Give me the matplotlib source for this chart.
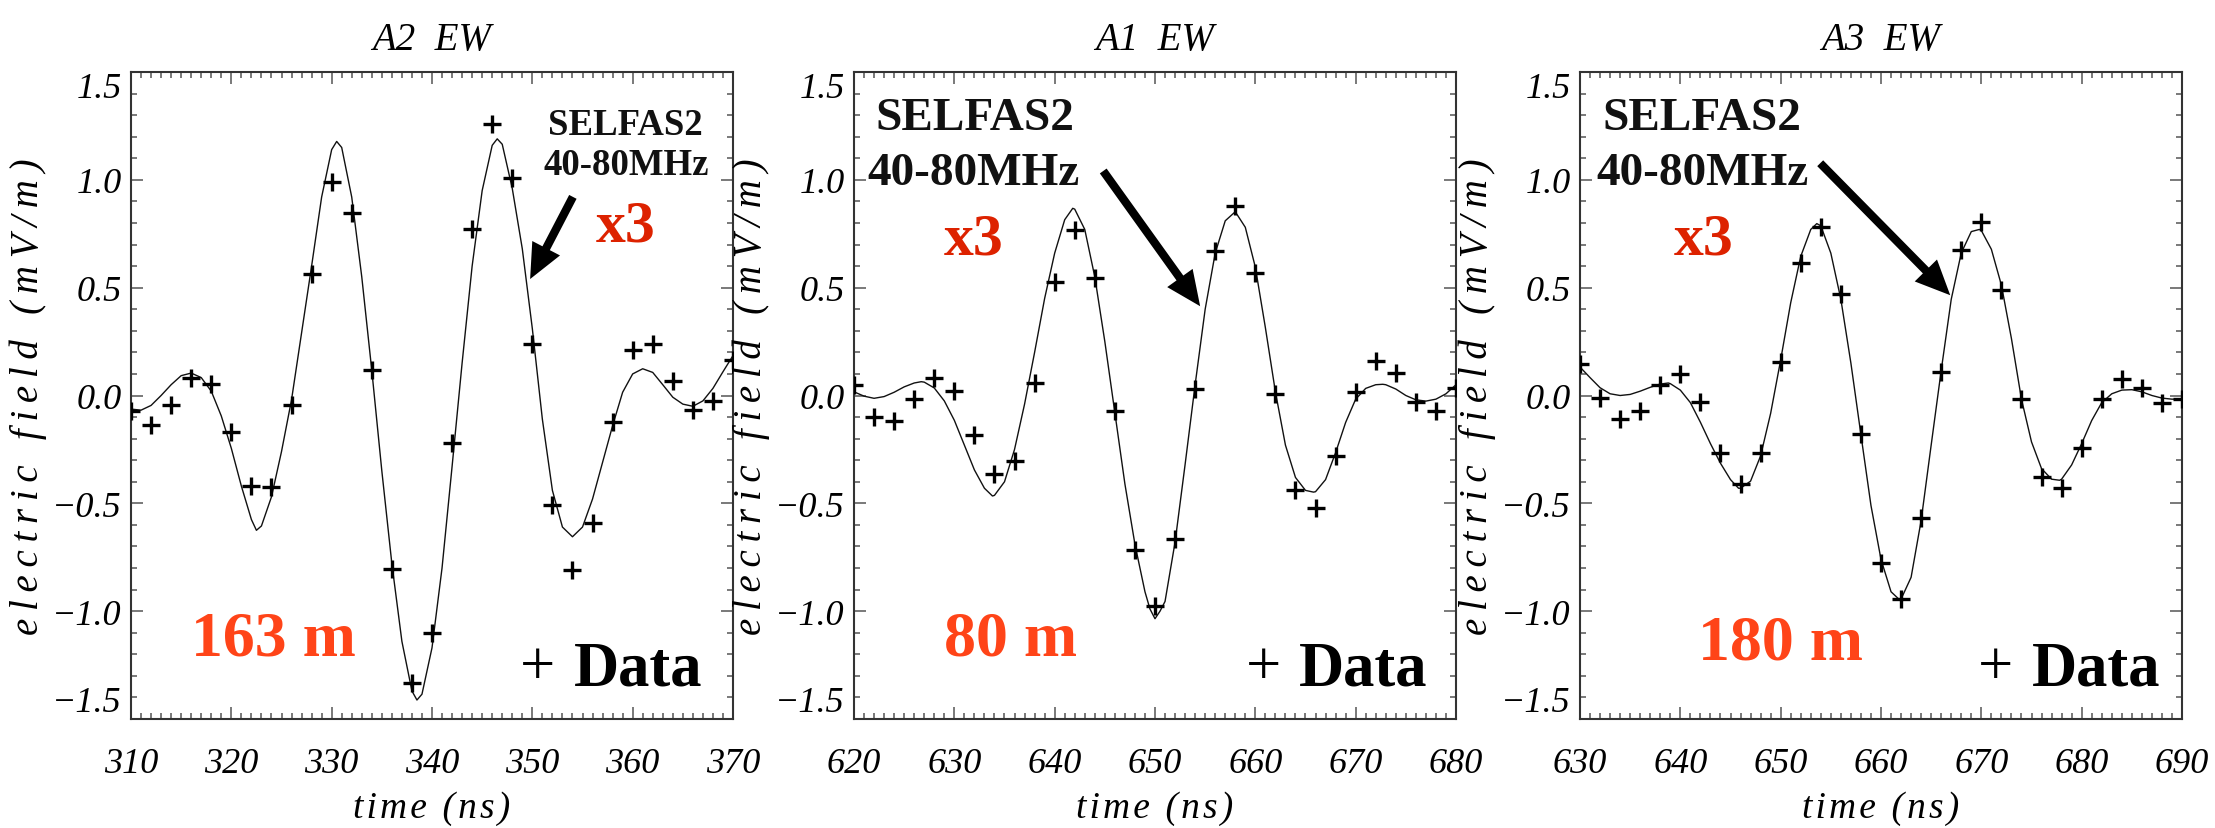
import matplotlib
matplotlib.use("Agg")
import matplotlib.pyplot as plt
from matplotlib.ticker import MultipleLocator

# ---------------- data ----------------
titles = ["A2 EW", "A1 EW", "A3 EW"]
distances = ["163 m", "80 m", "180 m"]

# measured data points (every 2 ns)
a2_t = [310, 312, 314, 316, 318, 320, 322, 324, 326, 328, 330, 332, 334, 336, 338, 340,
        342, 344, 346, 348, 350, 352, 354, 356, 358, 360, 362, 364, 366, 368, 370]
a2_e = [-0.07, -0.135, -0.045, 0.08, 0.055, -0.17, -0.42, -0.425, -0.045, 0.565, 0.99,
        0.848, 0.118, -0.805, -1.335, -1.1, -0.218, 0.77, 1.26, 1.008, 0.24, -0.508,
        -0.808, -0.59, -0.125, 0.212, 0.24, 0.068, -0.066, -0.025, 0.165]

a1_t = [620, 622, 624, 626, 628, 630, 632, 634, 636, 638, 640, 642, 644, 646, 648, 650,
        652, 654, 656, 658, 660, 662, 664, 666, 668, 670, 672, 674, 676, 678, 680]
a1_e = [0.05, -0.1, -0.12, -0.017, 0.08, 0.02, -0.182, -0.362, -0.302, 0.057, 0.524,
        0.766, 0.547, -0.07, -0.717, -0.977, -0.665, 0.03, 0.67, 0.88, 0.57, 0.005,
        -0.436, -0.52, -0.282, 0.017, 0.162, 0.106, -0.028, -0.072, 0.033]

a3_t = [630, 632, 634, 636, 638, 640, 642, 644, 646, 648, 650, 652, 654, 656, 658, 660,
        662, 664, 666, 668, 670, 672, 674, 676, 678, 680, 682, 684, 686, 688, 690]
a3_e = [0.148, -0.013, -0.11, -0.07, 0.05, 0.098, -0.03, -0.268, -0.412, -0.268, 0.157,
        0.615, 0.78, 0.47, -0.177, -0.777, -0.945, -0.57, 0.107, 0.674, 0.805, 0.49,
        -0.017, -0.38, -0.43, -0.245, -0.017, 0.078, 0.033, -0.036, -0.017]

# SELFAS2 simulation (40-80 MHz, x3)
a2_sim_t = [310, 311, 312, 313, 314, 315, 316, 317, 318, 319, 320, 321, 322, 322.5, 323,
            324, 325, 326, 327, 328, 329, 330, 330.5, 331, 332, 333, 334, 335, 336, 337,
            338, 338.5, 339, 340, 341, 342, 343, 344, 345, 346, 346.5, 347, 348, 349,
            350, 351, 352, 353, 354, 355, 356, 357, 358, 359, 360, 361, 362, 363, 364,
            365, 366, 367, 368, 369, 370]
a2_sim_e = [-0.063, -0.068, -0.046, 0.0, 0.05, 0.092, 0.104, 0.083, 0.02, -0.095, -0.245,
            -0.42, -0.575, -0.625, -0.605, -0.47, -0.26, -0.02, 0.29, 0.6, 0.92, 1.14,
            1.178, 1.15, 0.92, 0.55, 0.116, -0.35, -0.78, -1.14, -1.37, -1.412, -1.385,
            -1.17, -0.8, -0.33, 0.15, 0.6, 0.95, 1.16, 1.19, 1.165, 0.96, 0.68, 0.31,
            -0.11, -0.44, -0.61, -0.655, -0.61, -0.48, -0.31, -0.14, 0.015, 0.1, 0.124,
            0.107, 0.05, -0.008, -0.04, -0.05, -0.025, 0.033, 0.11, 0.185]

a1_sim_t = [620, 621, 622, 623, 624, 625, 626, 626.7, 627, 628, 629, 630, 631, 632, 633,
            633.8, 634, 635, 636, 637, 638, 639, 640, 641, 641.8, 642, 643, 644, 645, 646,
            647, 648, 649, 649.5, 650, 650.5, 651, 652, 653, 654, 655, 656, 657, 658, 659,
            660, 661, 662, 663, 664, 665, 665.8, 666, 667, 668, 669, 670, 671, 672, 672.7,
            673, 674, 675, 676, 677, 678, 679, 680]
a1_sim_e = [0.017, -0.003, -0.013, -0.005, 0.015, 0.04, 0.058, 0.064, 0.062, 0.035, -0.025,
            -0.115, -0.23, -0.345, -0.43, -0.466, -0.463, -0.4, -0.25, -0.04, 0.2, 0.45,
            0.66, 0.815, 0.868, 0.864, 0.77, 0.55, 0.25, -0.08, -0.41, -0.69, -0.91, -0.99,
            -1.035, -1.0, -0.955, -0.68, -0.32, 0.05, 0.4, 0.66, 0.81, 0.852, 0.78, 0.595,
            0.315, 0.017, -0.23, -0.38, -0.44, -0.448, -0.446, -0.39, -0.265, -0.125,
            -0.017, 0.033, 0.05, 0.052, 0.05, 0.03, 0.0, -0.02, -0.026, -0.017, 0.008, 0.05]

a3_sim_t = [630, 631, 632, 633, 634, 635, 636, 637, 638, 638.8, 639, 640, 641, 642, 643,
            644, 645, 645.8, 646, 647, 648, 649, 650, 651, 652, 653, 653.6, 654, 655, 656,
            657, 658, 659, 660, 661, 661.8, 662, 663, 664, 665, 666, 667, 668, 669, 669.8,
            670, 671, 672, 673, 674, 675, 676, 677, 677.8, 678, 679, 680, 681, 682, 683,
            684, 685, 686, 687, 688, 689, 690]
a3_sim_e = [0.132, 0.083, 0.036, 0.008, 0.0, 0.005, 0.02, 0.038, 0.053, 0.058, 0.055, 0.025,
            -0.033, -0.124, -0.223, -0.314, -0.39, -0.43, -0.43, -0.397, -0.28, -0.083,
            0.165, 0.43, 0.645, 0.77, 0.797, 0.787, 0.66, 0.446, 0.15, -0.182, -0.51,
            -0.76, -0.91, -0.945, -0.944, -0.843, -0.58, -0.23, 0.116, 0.446, 0.661, 0.76,
            0.77, 0.765, 0.678, 0.512, 0.264, -0.017, -0.215, -0.339, -0.388, -0.393,
            -0.388, -0.322, -0.223, -0.116, -0.033, 0.008, 0.025, 0.027, 0.017, 0.0,
            -0.012, -0.017, -0.017]

x_ticks = [[310, 320, 330, 340, 350, 360, 370],
           [620, 630, 640, 650, 660, 670, 680],
           [630, 640, 650, 660, 670, 680, 690]]
x_ticklabels = [["310", "320", "330", "340", "350", "360", "370"],
                ["620", "630", "640", "650", "660", "670", "680"],
                ["630", "640", "650", "660", "670", "680", "690"]]
y_ticks = [-1.5, -1.0, -0.5, 0.0, 0.5, 1.0, 1.5]
y_ticklabels = ["\u22121.5", "\u22121.0", "\u22120.5", "0.0", "0.5", "1.0", "1.5"]

data_t = [a2_t, a1_t, a3_t]
data_e = [a2_e, a1_e, a3_e]
sim_t = [a2_sim_t, a1_sim_t, a3_sim_t]
sim_e = [a2_sim_e, a1_sim_e, a3_sim_e]

# ---------------- layout / style ----------------
SERIF = ["Liberation Serif", "DejaVu Serif"]
plt.rcParams["font.family"] = SERIF
plt.rcParams["axes.unicode_minus"] = True

W, H = 2215, 829
fig = plt.figure(figsize=(W / 100, H / 100), dpi=100)

lefts_px = [131, 854, 1580]
ax_w_px, top_px, bot_px = 602, 73, 720


def spaced(s, sep):
    return sep.join(list(s))


ylabel_txt = spaced("electric field (mV/m)", "\u2009")
xlabel_txt = spaced("time (ns)", "\u200a")

# annotation layout in axes fraction (per panel)
sel_cfg = [dict(x=0.822, ha="center", size=26.5),
           dict(x=0.035, ha="left", size=34),
           dict(x=0.038, ha="left", size=34)]
mhz_cfg = [dict(x=0.822, ha="center", size=26.5),
           dict(x=0.023, ha="left", size=34),
           dict(x=0.027, ha="left", size=34)]
sel_y = [0.904, 0.912, 0.912]
mhz_y = [0.842, 0.827, 0.827]
x3_pos = [(0.821, 0.739), (0.199, 0.720), (0.205, 0.720)]
dist_pos = [(0.237, 0.100, "center"), (0.149, 0.099, "left"), (0.196, 0.094, "left")]
plus_x = [0.676, 0.681, 0.691]
data_x = [0.736, 0.739, 0.751]
arrows = [((0.734, 0.807), (0.663, 0.680)),
          ((0.414, 0.847), (0.575, 0.638)),
          ((0.399, 0.859), (0.615, 0.655))]

for i in range(3):
    ax = fig.add_axes([lefts_px[i] / W, (H - bot_px) / H, ax_w_px / W,
                       (bot_px - top_px) / H])
    ax.plot(sim_t[i], sim_e[i], color="#111111", lw=1.0, zorder=2)
    ax.plot(data_t[i], data_e[i], linestyle="none", marker="+", ms=13, mew=2.4,
            color="black", zorder=3)

    ax.set_xlim(x_ticks[i][0], x_ticks[i][-1])
    ax.set_ylim(-1.5, 1.5)
    ax.set_xticks(x_ticks[i])
    ax.set_xticklabels(x_ticklabels[i])
    ax.set_yticks(y_ticks)
    ax.set_yticklabels(y_ticklabels)
    ax.xaxis.set_minor_locator(MultipleLocator(1))
    ax.yaxis.set_minor_locator(MultipleLocator(0.1))
    ax.tick_params(which="both", direction="in", top=True, right=True,
                   color="#555555", width=1.1)
    ax.tick_params(which="major", length=8.6)
    ax.tick_params(which="minor", length=4.3)
    ax.tick_params(axis="x", which="major", pad=20.5)
    ax.tick_params(axis="y", which="major", pad=6.5)
    for lab in ax.get_xticklabels() + ax.get_yticklabels():
        lab.set_fontstyle("italic")
        lab.set_fontsize(26)
        lab.set_family(SERIF)
    ylabs = ax.get_yticklabels()
    ylabs[0].set_verticalalignment("bottom")
    ylabs[-1].set_verticalalignment("top")
    for sp in ax.spines.values():
        sp.set_linewidth(1.5)
        sp.set_color("#333333")

    ax.set_title(titles[i].replace(" ", "  "), y=1.036, pad=0, fontsize=28,
                 fontstyle="italic", va="baseline")
    ax.set_ylabel(ylabel_txt, fontsize=28, fontstyle="italic")
    ax.yaxis.set_label_coords(-0.14, 0.5)
    ax.set_xlabel(xlabel_txt, fontsize=27, fontstyle="italic", va="top")
    ax.xaxis.set_label_coords(0.5, -0.11)

    tr = ax.transAxes
    ax.text(sel_cfg[i]["x"], sel_y[i], "SELFAS2", transform=tr, ha=sel_cfg[i]["ha"],
            va="baseline", fontsize=sel_cfg[i]["size"], fontweight="bold", color="#111111")
    ax.text(mhz_cfg[i]["x"], mhz_y[i], "40-80MHz", transform=tr, ha=mhz_cfg[i]["ha"],
            va="baseline", fontsize=mhz_cfg[i]["size"], fontweight="bold", color="#111111")
    ax.text(x3_pos[i][0], x3_pos[i][1], "x3", transform=tr, ha="center", va="baseline",
            fontsize=43, fontweight="bold", color="#dd2200")
    ax.text(dist_pos[i][0], dist_pos[i][1], distances[i], transform=tr,
            ha=dist_pos[i][2], va="baseline", fontsize=46, fontweight="bold",
            color="#ff4418")
    ax.text(plus_x[i], 0.054, "+", transform=tr, ha="center", va="baseline",
            fontsize=45, color="black")
    ax.text(data_x[i], 0.054, "Data", transform=tr, ha="left", va="baseline",
            fontsize=45, fontweight="bold", color="black")
    tail, head = arrows[i]
    ax.annotate("", xy=head, xytext=tail, xycoords="axes fraction",
                textcoords="axes fraction",
                arrowprops=dict(arrowstyle="simple,head_length=1.0,head_width=0.9,tail_width=0.24",
                                mutation_scale=25, color="black", lw=0,
                                shrinkA=0, shrinkB=0))

fig.savefig("out.png", dpi=100)
